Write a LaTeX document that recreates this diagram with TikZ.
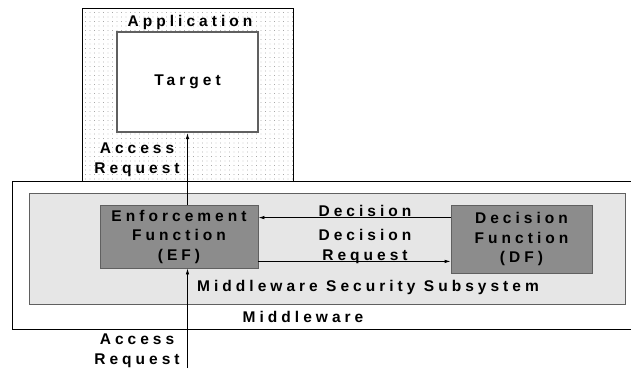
\documentclass[tikz,border=0pt]{standalone}
\usepackage{fontspec}
\setmainfont{Liberation Sans}
\newfontfamily\spaced{Liberation Sans Bold}[LetterSpace=26]
\usetikzlibrary{arrows.meta, patterns.meta}
\definecolor{funcgray}{RGB}{140,140,140}
\definecolor{subgray}{RGB}{230,230,230}
\definecolor{edgegray}{RGB}{96,96,96}
\definecolor{dotgray}{RGB}{120,120,120}

\begin{document}
\begin{tikzpicture}[x=1pt, y=1pt,
  every node/.style={font=\spaced\fontsize{15.5}{19.5}\selectfont, inner sep=0pt},
  frame/.style={draw, rectangle, line width=0.8pt},
  func/.style={frame, draw=edgegray, fill=funcgray, align=center},
  lbl/.style={align=center},
  flow/.style={-{Latex[length=6pt,width=3.5pt]}, line width=0.8pt}
]
\useasboundingbox (0,0) rectangle (631,368);
\clip (0,0) rectangle (631,368);

\node[frame, minimum width=211, minimum height=173,
      pattern={Dots[distance=4.5pt, radius=0.45pt]}, pattern color=dotgray] (app) at (187.5,273.5) {};
\node[frame, draw=edgegray, line width=2pt, fill=white,
      minimum width=141, minimum height=100] (target) at (187.5,286) {Target};
\node[anchor=base] (applbl) at (190,342) {Application};
\node[lbl] (upreq) at (137,208) {Access\\Request};

\node[frame, minimum width=648, minimum height=148] (mw) at (336,113) {};
\node[frame, draw=edgegray, fill=subgray, minimum width=596, minimum height=111] (mss) at (327,119.5) {};

\node[func, minimum width=158, minimum height=63] (ef) at (179,131.5) {Enforcement\\Function\\(EF)};
\node[func, minimum width=141, minimum height=68] (df) at (521.5,129) {Decision\\Function\\(DF)};

\node[anchor=base] (declbl) at (365,152) {Decision};
\node[lbl] (reqlbl) at (365,121.5) {Decision\\Request};
\node[anchor=base] (msslbl) at (368,77) {Middleware Security Subsystem};
\node[anchor=base] (mwlbl) at (303,46) {Middleware};
\node[lbl] (lowreq) at (137,17) {Access\\Request};

\coordinate (entry) at (187.5,0);
\draw[flow] (entry) -- (entry |- ef.south);
\draw[flow] (ef.north -| target.south) -- (target.south);
\draw[flow] ([yshift=-13pt]df.north west) -- ([yshift=-13pt]df.north west -| ef.east);
\draw[flow] ([yshift=7pt]ef.south east) -- ([yshift=7pt]ef.south east -| df.west);
\end{tikzpicture}
\end{document}
